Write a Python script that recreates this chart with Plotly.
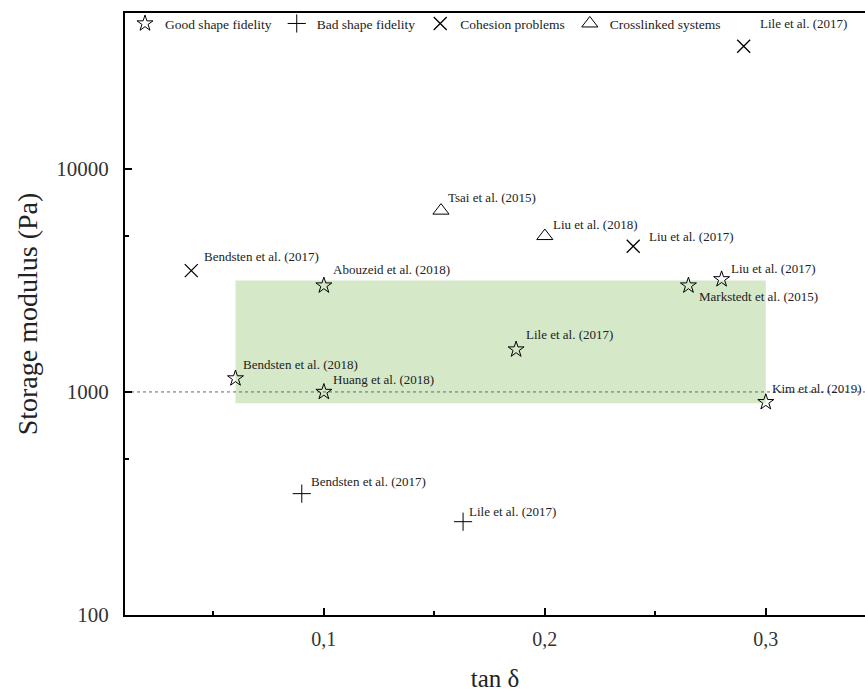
import plotly.graph_objects as go
import math

# ---- data ----
good_x = [0.06, 0.10, 0.10, 0.187, 0.265, 0.28, 0.30]
good_y = [1150, 1000, 3000, 1550, 3000, 3200, 900]
good_lbl = ["Bendsten et al. (2018)", "Huang et al. (2018)", "Abouzeid et al. (2018)",
            "Lile et al. (2017)", "Markstedt et al. (2015)", "Liu et al. (2017)", "Kim et al. (2019)"]

bad_x = [0.09, 0.163]
bad_y = [350, 262]
bad_lbl = ["Bendsten et al. (2017)", "Lile et al. (2017)"]

coh_x = [0.04, 0.24, 0.29]
coh_y = [3500, 4500, 35500]
coh_lbl = ["Bendsten et al. (2017)", "Liu et al. (2017)", "Lile et al. (2017)"]

xl_x = [0.153, 0.20]
xl_y = [6500, 5000]
xl_lbl = ["Tsai et al. (2015)", "Liu et al. (2018)"]

region_x = [0.06, 0.30]
region_y = [890, 3160]
ref_line_y = 1000

x_ticks = [0.1, 0.2, 0.3]
x_ticktext = ["0,1", "0,2", "0,3"]
y_ticks = [100, 1000, 10000]
y_ticktext = ["100", "1000", "10000"]

X_RANGE = [0.01, 0.3449]

# label offsets in pixels (style)
good_off = [(6, 14), (7, 12), (7, 16), (8, 15), (9, -11), (7, 11), (4, 14)]
bad_off = [(7, 12), (4, 10)]
coh_off = [(11, 14), (14, 10), (14, 23)]
xl_off = [(5, 13), (6, 12)]

FONT = "'Liberation Serif', 'DejaVu Serif', serif"

fig = go.Figure()

fig.add_shape(type="rect", xref="x", yref="y", x0=region_x[0], x1=region_x[1],
              y0=region_y[0], y1=region_y[1], fillcolor="#d5e8c8",
              line=dict(width=0), layer="below")
fig.add_shape(type="line", xref="x", yref="y", x0=X_RANGE[0], x1=X_RANGE[1], y0=ref_line_y, y1=ref_line_y,
              line=dict(color="#666666", width=1, dash="dot"), layer="below")

mk_line = dict(color="black", width=1)
fig.add_trace(go.Scatter(x=good_x, y=good_y, mode="markers", name="Good shape fidelity",
                         marker=dict(symbol="star-open", size=12, color="black", line=mk_line)))
fig.add_trace(go.Scatter(x=bad_x, y=bad_y, mode="markers", name="Bad shape fidelity",
                         marker=dict(symbol="cross-thin-open", size=13, color="black", line=mk_line)))
fig.add_trace(go.Scatter(x=coh_x, y=coh_y, mode="markers", name="Cohesion problems",
                         marker=dict(symbol="x-thin-open", size=13, color="black", line=dict(color="black", width=1.3))))
fig.add_trace(go.Scatter(x=xl_x, y=xl_y, mode="markers", name="Crosslinked systems",
                         marker=dict(symbol="triangle-up-open", size=14, color="black", line=mk_line)))

for xs, ys, lbls, offs in [(good_x, good_y, good_lbl, good_off), (bad_x, bad_y, bad_lbl, bad_off),
                           (coh_x, coh_y, coh_lbl, coh_off), (xl_x, xl_y, xl_lbl, xl_off)]:
    for x, y, t, (dx, dy) in zip(xs, ys, lbls, offs):
        fig.add_annotation(x=x, y=math.log10(y), xref="x", yref="y", text=t, showarrow=False,
                           xanchor="left", yanchor="middle", xshift=dx, yshift=dy,
                           font=dict(family=FONT, size=13, color="#222222"))

fig.update_layout(
    width=865, height=696,
    margin=dict(l=125, r=0, t=13, b=81),
    plot_bgcolor="white", paper_bgcolor="white",
    showlegend=True,
    legend=dict(orientation="h", x=0, y=1.008, xanchor="left", yanchor="top",
                font=dict(family=FONT, size=13.5, color="#222222"),
                bgcolor="rgba(0,0,0,0)", itemwidth=30, tracegroupgap=0),
    font=dict(family=FONT, color="#222222"),
)

fig.update_xaxes(range=X_RANGE, showline=True, linecolor="black", linewidth=2, mirror=True,
                 ticks="inside", ticklen=7, tickwidth=1.5, tickcolor="black",
                 tickvals=x_ticks, ticktext=x_ticktext, tickfont=dict(family=FONT, size=20, color="#333333"),
                 ticklabelstandoff=5,
                 showgrid=False, zeroline=False,
                 minor=dict(tickvals=[0.05, 0.15, 0.25], ticks="inside", ticklen=4, tickwidth=1.5, tickcolor="black"),
                 title=dict(text="tan δ", font=dict(family=FONT, size=25, color="#222222"), standoff=20))
fig.update_yaxes(type="log", range=[2, math.log10(50000)], showline=True, linecolor="black", linewidth=2,
                 mirror=False, ticks="inside", ticklen=7, tickwidth=1.5, tickcolor="black",
                 tickvals=y_ticks, ticktext=y_ticktext, tickfont=dict(family=FONT, size=21, color="#333333"),
                 ticklabelstandoff=10,
                 showgrid=False, zeroline=False,
                 minor=dict(tickvals=[500, 5000], ticks="inside", ticklen=4, tickwidth=1.5, tickcolor="black"),
                 title=dict(text="Storage modulus (Pa)", font=dict(family=FONT, size=28, color="#222222"), standoff=10))

fig.write_html("out.html")
